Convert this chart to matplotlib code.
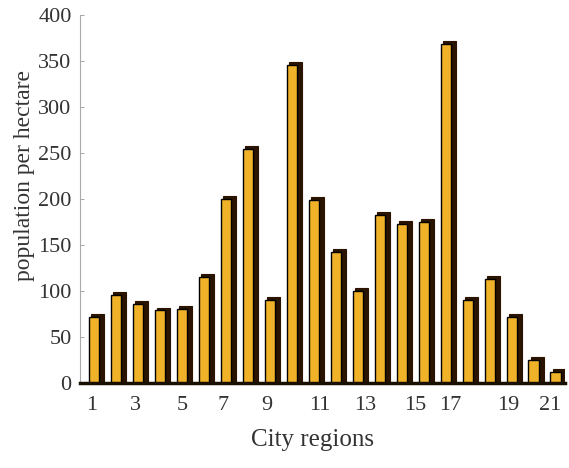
import matplotlib
matplotlib.use("Agg")
import matplotlib.pyplot as plt
import numpy as np

regions = list(range(1, 23))
density = [72, 96, 86, 79, 81, 115, 200, 255, 90, 346, 199, 143, 100,
           183, 173, 175, 369, 90, 113, 72, 25, 12]
tick_labels = ["1", "3", "5", "7", "9", "11", "13", "15", "17", "19", "21"]
tick_pos = [0.86, 2.86, 4.95, 6.82, 8.82, 11.23, 13.27, 15.55, 17.14, 19.77, 21.68]
yticks = [0, 50, 100, 150, 200, 250, 300, 350, 400]

plt.rcParams['font.family'] = ['Liberation Serif', 'DejaVu Serif']

fig = plt.figure(figsize=(5.69, 4.68), dpi=100)
ax = fig.add_axes([0.1406, 0.1816, 0.852, 0.786])

x = np.array(regions, dtype=float)
vals = np.array(density, dtype=float)

face = "#F0B228"
dark = "#2A1400"

# dark side / cap behind
ax.bar(x + 0.12, vals + 3, width=0.62, color=dark, edgecolor=dark, linewidth=0.8, zorder=2)
# front face
ax.bar(x - 0.06, vals, width=0.46, color=face, edgecolor="black", linewidth=1.0, zorder=3)

ax.set_xlim(0.32, 22.36)
ax.set_ylim(0, 400)

ax.set_xticks(tick_pos)
ax.set_xticklabels(tick_labels)
ax.set_yticks(yticks)
ax.tick_params(axis='x', length=0, pad=9, labelsize=16, labelcolor="#333333")
ax.tick_params(axis='y', direction='in', length=3, width=0.6, color="#999999",
               pad=6, labelsize=16, labelcolor="#333333")

for s in ["top", "right"]:
    ax.spines[s].set_visible(False)
ax.spines["left"].set_color("#aaaaaa")
ax.spines["left"].set_linewidth(0.8)
ax.spines["bottom"].set_color("#1a1000")
ax.spines["bottom"].set_linewidth(2.5)
ax.spines["bottom"].set_zorder(4)

ax.set_xlabel("City regions", fontsize=18, color="#333333")
ax.set_ylabel("population per hectare", fontsize=17, color="#333333")
ax.xaxis.set_label_coords(0.48, -0.155)
ax.yaxis.set_label_coords(-0.115, 0.565)
ax.xaxis.label.set_va("center")
ax.yaxis.label.set_va("center")

fig.savefig("out.png", dpi=100)
